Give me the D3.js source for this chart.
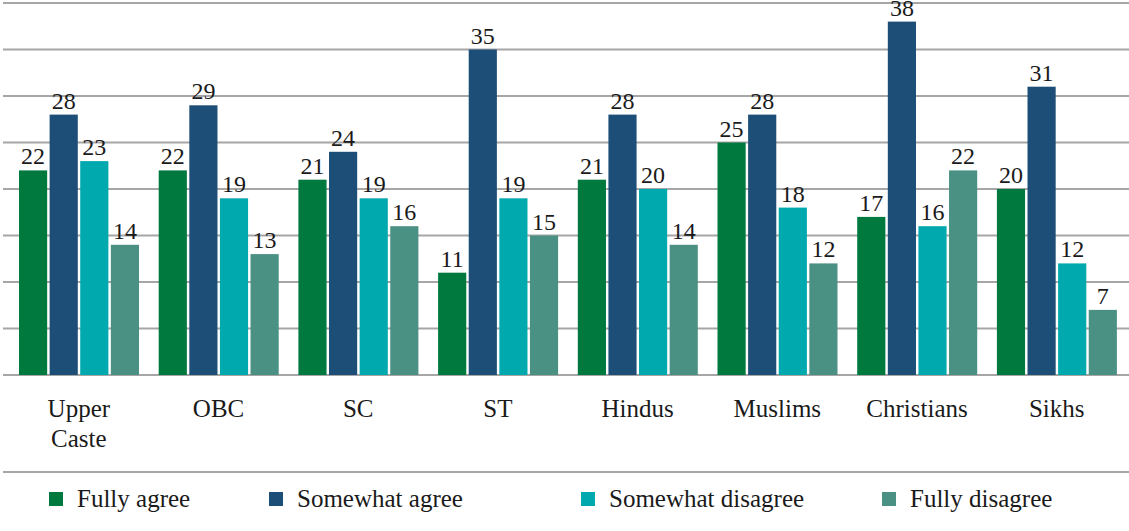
<!DOCTYPE html>
<html><head><meta charset="utf-8">
<script src="https://cdn.jsdelivr.net/npm/d3@7"></script>
</head><body style="margin:0">
<svg id="c" width="1129" height="531" style="display:block"></svg>
<script>
const categories = ["Upper Caste","OBC","SC","ST","Hindus","Muslims","Christians","Sikhs"];
const seriesNames = ["Fully agree","Somewhat agree","Somewhat disagree","Fully disagree"];
const fullyAgree      = [22,22,21,11,21,25,17,20];
const somewhatAgree   = [28,29,24,35,28,28,38,31];
const somewhatDisagree= [23,19,19,19,20,18,16,12];
const fullyDisagree   = [14,13,16,15,14,12,22,7];
const gridTicks = [0,5,10,15,20,25,30,35,40];
const colors = ["#00793f","#1d4e77","#00a9ae","#4b9183"];

const series = [fullyAgree, somewhatAgree, somewhatDisagree, fullyDisagree];
const svg = d3.select("#c");
const FONT = '"Liberation Serif", "Times New Roman", serif';

const x0 = d3.scaleBand().domain(categories).range([9, 1126.6]).padding(0);
const x1 = d3.scaleBand().domain(d3.range(4)).range([10, 130]).paddingInner(0.08).paddingOuter(0);
const y = d3.scaleLinear().domain([0,40]).range([375,3]);

svg.append("g").selectAll("line").data(gridTicks).join("line")
  .attr("x1",3).attr("x2",1129)
  .attr("y1",d=>y(d)).attr("y2",d=>y(d))
  .attr("stroke","#a6a6a6").attr("stroke-width",2);

const groups = svg.append("g").selectAll("g").data(categories).join("g")
  .attr("transform",c=>`translate(${x0(c)},0)`);
groups.each(function(c,ci){
  const g = d3.select(this);
  const vals = series.map((s,si)=>({si, v:s[ci]}));
  g.selectAll("rect").data(vals).join("rect")
    .attr("x",d=>x1(d.si)).attr("width",x1.bandwidth())
    .attr("y",d=>y(d.v)).attr("height",d=>y(0)-y(d.v))
    .attr("fill",d=>colors[d.si]);
  g.selectAll("text").data(vals).join("text")
    .attr("x",d=>x1(d.si)+x1.bandwidth()/2).attr("y",d=>y(d.v)-6)
    .attr("text-anchor","middle").attr("font-size",24)
    .attr("fill","#1a1a1a").text(d=>d.v);
});

const cl = svg.append("g").selectAll("text").data(categories).join("text")
  .attr("x",c=>x0(c)+x0.bandwidth()/2).attr("y",417)
  .attr("text-anchor","middle").attr("font-size",25).attr("fill","#1a1a1a");
cl.each(function(c){
  const words = c==="Upper Caste" ? ["Upper","Caste"] : [c];
  const t = d3.select(this);
  words.forEach((w,i)=>t.append("tspan").attr("x",x0(c)+x0.bandwidth()/2).attr("dy",i?30:0).text(w));
});

svg.append("line").attr("x1",3).attr("x2",1129).attr("y1",472).attr("y2",472)
  .attr("stroke","#a6a6a6").attr("stroke-width",2);

const legX = [49,269,581,882];
const lg = svg.append("g").selectAll("g").data(seriesNames).join("g")
  .attr("transform",(d,i)=>`translate(${legX[i]},492)`);
lg.append("rect").attr("width",14).attr("height",14).attr("fill",(d,i)=>colors[i]);
lg.append("text").attr("x",28).attr("y",15).attr("font-size",25)
  .attr("fill","#1a1a1a").text(d=>d);

svg.selectAll("text, tspan").style("font-family", FONT, "important");
</script>
</body></html>
